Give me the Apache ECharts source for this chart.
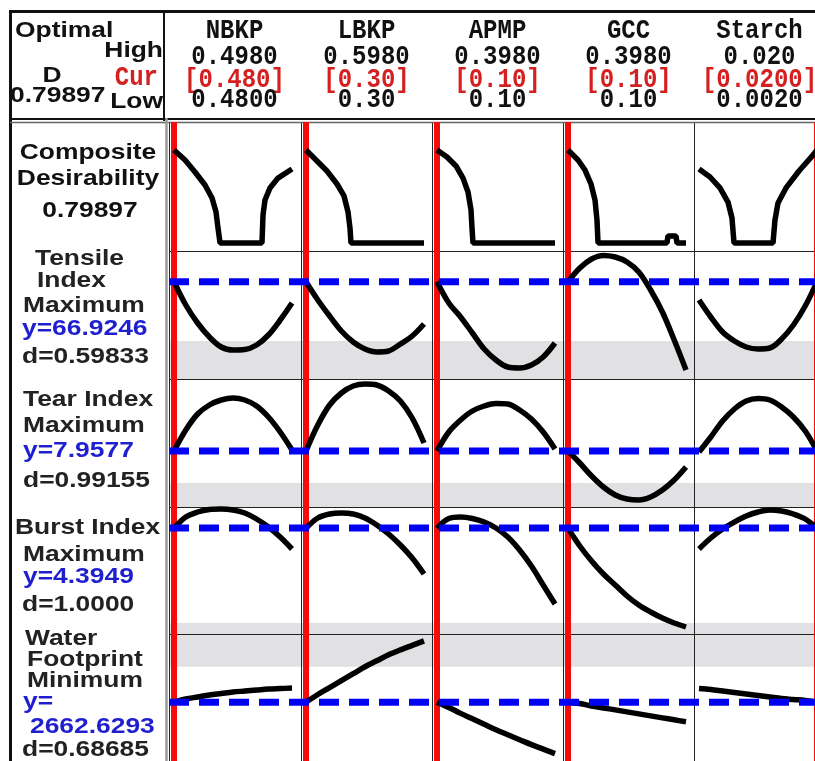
<!DOCTYPE html>
<html><head><meta charset="utf-8">
<script src="https://cdn.jsdelivr.net/npm/echarts@6/dist/echarts.min.js"></script>
<style>html,body{margin:0;padding:0;background:#fff}#c{width:815px;height:761px}</style>
</head><body><div id="c"></div>
<script>
// ---------------- DATA ----------------
const factors = ['NBKP', 'LBKP', 'APMP', 'GCC', 'Starch'];
const highLabels = ['0.4980', '0.5980', '0.3980', '0.3980', '0.020'];
const curLabels = ['[0.480]', '[0.30]', '[0.10]', '[0.10]', '[0.0200]'];
const lowLabels = ['0.4800', '0.30', '0.10', '0.10', '0.0020'];
const lows = [0.480, 0.30, 0.10, 0.10, 0.002];
const highs = [0.498, 0.598, 0.398, 0.398, 0.020];
const current = [0.480, 0.30, 0.10, 0.10, 0.020];

// factor settings at which the response curves were read
const xNBKP = [0.4800, 0.4818, 0.4836, 0.4854, 0.4872, 0.4890, 0.4908, 0.4926, 0.4944, 0.4962, 0.4980];
const xLBKP = [0.300, 0.3298, 0.3596, 0.3894, 0.4192, 0.4490, 0.4788, 0.5086, 0.5384, 0.5682, 0.5980];
const xAPMP = [0.100, 0.1298, 0.1596, 0.1894, 0.2192, 0.2490, 0.2788, 0.3086, 0.3384, 0.3682, 0.3980];
const xGCC = [0.100, 0.1298, 0.1596, 0.1894, 0.2192, 0.2490, 0.2788, 0.3086, 0.3384, 0.3682, 0.3980];
const xStarch = [0.0020, 0.0038, 0.0056, 0.0074, 0.0092, 0.0110, 0.0128, 0.0146, 0.0164, 0.0182, 0.0200];

// composite desirability curves [factor value, D]
const compNBKP = [[0.4800,0.799],[0.48168,0.713],[0.4832,0.610],[0.48473,0.498],[0.4858,0.387],[0.48641,0.266],[0.48671,0.129],[0.48702,0],[0.49342,0],[0.49358,0.241],[0.49388,0.369],[0.49464,0.473],[0.49586,0.558],[0.4980,0.636]];
const compLBKP = [[0.300,0.799],[0.3253,0.713],[0.3530,0.619],[0.3783,0.507],[0.3960,0.404],[0.4061,0.266],[0.4111,0.129],[0.4136,0],[0.598,0]];
const compAPMP = [[0.100,0.799],[0.1253,0.739],[0.1480,0.662],[0.1657,0.558],[0.1783,0.438],[0.1859,0.283],[0.1884,0.129],[0.1909,0],[0.398,0]];
const compGCC = [[0.100,0.799],[0.1253,0.713],[0.1429,0.627],[0.1581,0.507],[0.1682,0.369],[0.1732,0.198],[0.1758,0],[0.3500,0],[0.3525,0.060],[0.3727,0.060],[0.3753,0],[0.398,0]];
const compStarch = [[0.0020,0.636],[0.00368,0.567],[0.0052,0.473],[0.00642,0.352],[0.00703,0.215],[0.00734,0],[0.01329,0],[0.01359,0.198],[0.01405,0.344],[0.01527,0.473],[0.01725,0.619],[0.01939,0.756],[0.0200,0.799]];

// Tensile Index
const tensileNBKP = [66.92, 64.6, 62.8, 61.4, 60.4, 60.1, 60.15, 60.6, 61.6, 63.1, 64.8];
const tensileLBKP = [66.92, 65.1, 63.5, 62.0, 60.9, 60.2, 59.9, 60.0, 60.7, 61.5, 62.7];
const tensileAPMP = [66.92, 64.8, 63.4, 61.8, 60.2, 59.1, 58.4, 58.3, 58.6, 59.4, 60.8];
const tensileGCC = [66.92, 68.3, 69.2, 69.55, 69.4, 68.9, 67.9, 66.1, 63.9, 61.1, 58.1];
const tensileStarch = [65.1, 63.4, 61.9, 61.0, 60.4, 60.2, 60.3, 61.2, 62.6, 64.5, 66.92];
// Tear Index
const tearNBKP = [7.96, 8.38, 8.70, 8.88, 8.98, 9.02, 8.98, 8.86, 8.64, 8.34, 7.98];
const tearLBKP = [7.96, 8.48, 8.88, 9.12, 9.26, 9.30, 9.28, 9.16, 8.96, 8.62, 8.12];
const tearAPMP = [7.96, 8.34, 8.58, 8.76, 8.86, 8.91, 8.90, 8.78, 8.60, 8.34, 8.00];
const tearGCC = [7.96, 7.72, 7.46, 7.24, 7.08, 7.00, 6.98, 7.04, 7.18, 7.38, 7.64];
const tearStarch = [7.94, 8.24, 8.56, 8.80, 8.96, 9.01, 8.98, 8.84, 8.64, 8.36, 7.96];
// Burst Index
const burstNBKP = [4.39, 4.615, 4.715, 4.765, 4.775, 4.755, 4.695, 4.575, 4.415, 4.215, 3.975];
const burstLBKP = [4.39, 4.595, 4.675, 4.695, 4.675, 4.595, 4.455, 4.275, 4.055, 3.795, 3.475];
const burstAPMP = [4.39, 4.585, 4.615, 4.585, 4.515, 4.395, 4.215, 3.955, 3.635, 3.255, 2.875];
const burstGCC = [4.39, 4.035, 3.735, 3.475, 3.255, 3.035, 2.855, 2.715, 2.595, 2.495, 2.415];
const burstStarch = [3.975, 4.195, 4.375, 4.515, 4.635, 4.715, 4.755, 4.735, 4.675, 4.575, 4.39];
// Water Footprint
const waterNBKP = [2662.6, 2669, 2673, 2677, 2680, 2683, 2685, 2687, 2689, 2690, 2691];
const waterLBKP = [2662.6, 2678, 2692, 2706, 2720, 2734, 2746, 2758, 2768, 2777, 2786];
const waterAPMP = [2662.6, 2652, 2640, 2629, 2618, 2607, 2597, 2587, 2577, 2568, 2559];
const waterGCC = [2662.6, 2660, 2655, 2651, 2647, 2643, 2639, 2635, 2631, 2627, 2623];
const waterStarch = [2690, 2688, 2685, 2682, 2679, 2676, 2673, 2670, 2668, 2666, 2662.6];

const yCurrent = [0.79897, 66.9246, 7.9577, 4.3949, 2662.6293];
const yAxisMin = [-0.069, 57.2, 6.84, 2.275, 2544];
const yAxisMax = [1.04, 70, 9.4, 4.815, 2800];
const bandFrom = [null, 57.2, 6.84, 2.275, 2734];
const bandTo = [null, 61.0, 7.32, 2.495, 2800];

// ---------------- LAYOUT ----------------
const xGrid = [xNBKP, xLBKP, xAPMP, xGCC, xStarch];
const compCurves = [compNBKP, compLBKP, compAPMP, compGCC, compStarch];
const respCurves = [
  [tensileNBKP, tensileLBKP, tensileAPMP, tensileGCC, tensileStarch],
  [tearNBKP, tearLBKP, tearAPMP, tearGCC, tearStarch],
  [burstNBKP, burstLBKP, burstAPMP, burstGCC, burstStarch],
  [waterNBKP, waterLBKP, waterAPMP, waterGCC, waterStarch]
];
const colLeft = [169, 301, 432, 563, 694];
const colW = [132, 131, 131, 131, 121];   // last column is cut by the picture edge
const rowTop = [122, 251, 379, 507, 634];
const rowH = [129, 128, 128, 127, 128];

const grid = [], xAxis = [], yAxis = [], series = [];
function addGrid(l, t, w, h, xmin, xmax, ymin, ymax) {
  grid.push({left: l, top: t, width: w, height: h, show: false});
  const i = grid.length - 1;
  xAxis.push({type: 'value', gridIndex: i, min: xmin, max: xmax, show: false});
  yAxis.push({type: 'value', gridIndex: i, min: ymin, max: ymax, show: false});
  return i;
}
function xRange(c) {
  const r = highs[c] - lows[c];
  return [lows[c] - 5 / 118 * r, lows[c] + (colW[c] - 5) / 118 * r];
}

for (let r = 0; r < 5; r++) {
  for (let c = 0; c < 5; c++) {
    const [xmin, xmax] = xRange(c);
    const gi = addGrid(colLeft[c], rowTop[r], colW[c], rowH[r], xmin, xmax, yAxisMin[r], yAxisMax[r]);
    const data = r === 0 ? compCurves[c] : xGrid[c].map((x, k) => [x, respCurves[r - 1][c][k]]);
    series.push({type: 'line', xAxisIndex: gi, yAxisIndex: gi, data, symbol: 'none',
      smooth: r === 0 ? false : 0.35, lineStyle: {color: '#000', width: 5.5}, z: 5, silent: true});
  }
}
// red current-setting lines
for (let c = 0; c < 5; c++) {
  const [xmin, xmax] = xRange(c);
  const gi = addGrid(colLeft[c], 122, colW[c], 640, xmin, xmax, 0, 1);
  series.push({type: 'line', xAxisIndex: gi, yAxisIndex: gi, data: [[current[c], 0], [current[c], 1]],
    symbol: 'none', lineStyle: {color: '#f40c0c', width: 6}, z: 4, silent: true});
}
// bands and blue dashed current-response lines
for (let r = 1; r < 5; r++) {
  const gi = addGrid(169, rowTop[r], 646, rowH[r], 0, 1, yAxisMin[r], yAxisMax[r]);
  series.push({type: 'line', xAxisIndex: gi, yAxisIndex: gi, data: [[0, yCurrent[r]], [1, yCurrent[r]]],
    symbol: 'none', lineStyle: {opacity: 0}, z: 1, silent: true,
    markArea: {silent: true, itemStyle: {color: '#e1e0e3'},
      data: [[{xAxis: 0, yAxis: bandFrom[r]}, {xAxis: 1, yAxis: bandTo[r]}]]}});
  series.push({type: 'line', xAxisIndex: gi, yAxisIndex: gi, data: [[0, yCurrent[r]], [1, yCurrent[r]]],
    symbol: 'none', lineStyle: {color: '#0000f5', width: 7, type: [20, 10], cap: 'butt'}, z: 6, silent: true});
}

// ---------------- GRAPHICS ----------------
const g = [];
function line(x1, y1, x2, y2, w, col, z) {
  g.push({type: 'line', shape: {x1, y1, x2, y2}, style: {stroke: col, lineWidth: w}, z: z || 3, silent: true});
}
const SANS = '"Liberation Sans", Arial, sans-serif';
const MONO = '"Liberation Mono", "Courier New", monospace';
function txt(text, x, y, align, color, font, sx, sy) {
  g.push({type: 'text', x, y, scaleX: sx || 1, scaleY: sy || 1, z: 10, silent: true,
    style: {text, font, fill: color, textAlign: align, textVerticalAlign: 'middle'}});
}
// panel lines
for (let c = 0; c < 5; c++) line(colLeft[c] + 0.5, 122, colLeft[c] + 0.5, 762, 1, '#222');
for (let r = 1; r < 5; r++) line(169, rowTop[r] + 0.5, 815, rowTop[r] + 0.5, 1, '#222');
// frame
line(9, 11.5, 815, 11.5, 3, '#111');
line(10.5, 10, 10.5, 762, 3, '#111');
line(10, 119, 815, 119, 2, '#111');
line(10, 122.5, 815, 122.5, 1.5, '#666');
line(164, 10, 164, 121, 2, '#111');
line(166.5, 118, 166.5, 762, 2.5, '#9a9a9a');

// header left block
const LF = 'bold 22px ' + SANS;
const MF = 'bold 24px ' + MONO;
const SX = 1.2;
txt('Optimal', 15, 31, 'left', '#111', LF, SX);
txt('High', 163, 51, 'right', '#111', LF, SX);
txt('D', 52, 76, 'center', '#111', LF, SX);
txt('Cur', 158, 78, 'right', '#d42020', MF, 1, 1.15);
txt('0.79897', 10, 96, 'left', '#111', LF, SX);
txt('Low', 163, 102, 'right', '#111', LF, SX);
// factor header
for (let c = 0; c < 5; c++) {
  const cx = colLeft[c] + 65.5;
  txt(factors[c], cx, 31, 'center', '#111', MF, 1, 1.15);
  txt(highLabels[c], cx, 57, 'center', '#111', MF, 1, 1.15);
  txt(curLabels[c], cx, 80, 'center', '#d42020', MF, 1, 1.15);
  txt(lowLabels[c], cx, 100, 'center', '#111', MF, 1, 1.15);
}
// response labels
const BL = '#1f1fd0';
txt('Composite', 88, 153, 'center', '#111', LF, SX);
txt('Desirability', 88, 179, 'center', '#111', LF, SX);
txt('0.79897', 90, 211, 'center', '#111', LF, SX);

txt('Tensile', 35, 259, 'left', '#222', LF, SX);
txt('Index', 37, 281, 'left', '#222', LF, SX);
txt('Maximum', 23, 306, 'left', '#222', LF, SX);
txt('y=66.9246', 22, 329, 'left', BL, LF, SX);
txt('d=0.59833', 22, 357, 'left', '#222', LF, SX);

txt('Tear Index', 23, 400, 'left', '#222', LF, SX);
txt('Maximum', 23, 426, 'left', '#222', LF, SX);
txt('y=7.9577', 23, 451, 'left', BL, LF, SX);
txt('d=0.99155', 23, 481, 'left', '#222', LF, SX);

txt('Burst Index', 15, 528, 'left', '#222', LF, SX);
txt('Maximum', 23, 555, 'left', '#222', LF, SX);
txt('y=4.3949', 23, 577, 'left', BL, LF, SX);
txt('d=1.0000', 22, 605, 'left', '#222', LF, SX);

txt('Water', 25, 639, 'left', '#222', LF, SX);
txt('Footprint', 27, 660, 'left', '#222', LF, SX);
txt('Minimum', 27, 681, 'left', '#222', LF, SX);
txt('y=', 23, 702, 'left', BL, LF, SX);
txt('2662.6293', 30, 727, 'left', BL, LF, SX);
txt('d=0.68685', 22, 750, 'left', '#222', LF, SX);

const chart = echarts.init(document.getElementById('c'));
chart.setOption({animation: false, grid, xAxis, yAxis, series, graphic: {elements: g}});
</script></body></html>
